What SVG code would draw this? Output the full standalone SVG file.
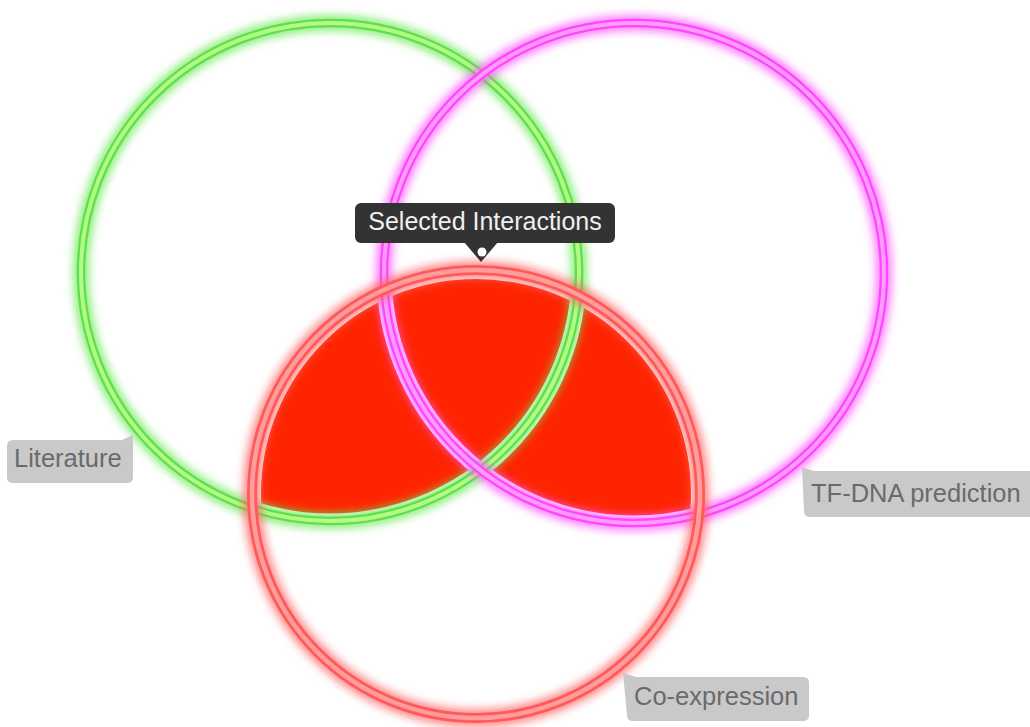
<svg xmlns="http://www.w3.org/2000/svg" width="1030" height="727" viewBox="0 0 1030 727">
<style>
.ring{fill:none}
.lbl{fill:#c9c9c9}
.lt{font-family:"Liberation Sans",Arial,sans-serif;font-size:25.5px;fill:#6a6a6a}
.gap{fill:none;stroke:#fff}
</style>
<defs>
<filter id="glow" x="-10%" y="-10%" width="120%" height="120%"><feGaussianBlur stdDeviation="4"/></filter>
<filter id="soft" x="-10%" y="-10%" width="120%" height="120%"><feGaussianBlur stdDeviation="0.7"/></filter>
<clipPath id="redclip"><circle cx="476" cy="494" r="224"/></clipPath>
</defs>
<rect width="1030" height="727" fill="#fff"/>
<g id="fill" clip-path="url(#redclip)" fill="#ff2400">
<circle cx="330" cy="272" r="249"/>
<circle cx="634" cy="273" r="250"/>
</g>
<g id="gaps">
<circle class="gap" cx="330" cy="272" r="249" stroke-width="15"/>
<circle class="gap" cx="634" cy="273" r="250" stroke-width="15"/>
<circle class="gap" cx="476" cy="494" r="224" stroke-width="18"/>
</g>
<g id="literature-circle" class="ring">
<circle cx="330" cy="272" r="249" stroke="#6be855" stroke-opacity="0.75" stroke-width="16" filter="url(#glow)"/>
<g filter="url(#soft)">
<circle cx="330" cy="272" r="249" stroke="#5fe04a" stroke-width="8.5"/>
<circle cx="330" cy="272" r="249" stroke="#b4fa88" stroke-width="4"/>
</g>
</g>
<g id="tfdna-circle" class="ring">
<circle cx="634" cy="273" r="250" stroke="#ff55ff" stroke-opacity="0.75" stroke-width="16" filter="url(#glow)"/>
<g filter="url(#soft)">
<circle cx="634" cy="273" r="250" stroke="#ff44ff" stroke-width="8.5"/>
<circle cx="634" cy="273" r="250" stroke="#ff9cff" stroke-width="4"/>
</g>
</g>
<g id="coexpression-circle" class="ring">
<circle cx="476" cy="494" r="224" stroke="#ff6666" stroke-opacity="0.75" stroke-width="18" filter="url(#glow)"/>
<g filter="url(#soft)">
<circle cx="476" cy="494" r="224" stroke="#ff5a5a" stroke-width="10"/>
<circle cx="476" cy="494" r="224" stroke="#ff9c9c" stroke-width="4.5"/>
</g>
</g>
<g id="tooltip">
<rect x="355" y="203" width="260" height="40" rx="6" fill="#333"/>
<path d="M464 242 L481 262 L498 242 Z" fill="#333"/>
<circle cx="482" cy="252" r="4.5" fill="#fff"/>
<text x="485" y="230" text-anchor="middle" font-family="'Liberation Sans',Arial,sans-serif" font-size="25" fill="#f0f0f0">Selected Interactions</text>
</g>
<g id="label-literature">
<path class="lbl" d="M13 440 H122 L133 435 V477 Q133 483 127 483 H13 Q7 483 7 477 V446 Q7 440 13 440 Z"/>
<text class="lt" x="14" y="467">Literature</text>
</g>
<g id="label-tfdna">
<path class="lbl" d="M802 467 L814 471 H1036 V517 H810 Q804 517 804 511 Z"/>
<text class="lt" x="811" y="502">TF-DNA prediction</text>
</g>
<g id="label-coexpression">
<path class="lbl" d="M623 673 L636 677 H803 Q809 677 809 683 V715 Q809 721 803 721 H633 Q627 721 627 715 Z"/>
<text class="lt" x="634" y="705">Co-expression</text>
</g>
</svg>
